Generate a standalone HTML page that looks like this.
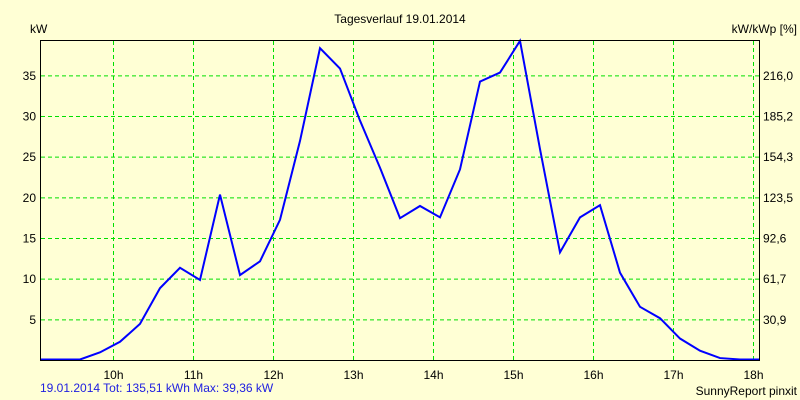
<!DOCTYPE html>
<html><head><meta charset="utf-8"><style>
body{margin:0;background:#ffffd5;}
svg{display:block;font-family:"Liberation Sans",Arial,sans-serif;font-size:12px;}
</style></head><body>
<svg id="chart" width="800" height="400">
<rect x="0" y="0" width="800" height="400" fill="#ffffd5"/>
<text x="400" y="23" text-anchor="middle">Tagesverlauf 19.01.2014</text>
<text x="30" y="33">kW</text>
<text x="797" y="33" text-anchor="end">kW/kWp [%]</text>
<g id="grid"></g>
<g id="ticks"></g>
<polyline id="line" fill="none" stroke="#0000ff" stroke-width="2"/>
<path d="M40.5,40.5 V360.5 H759.5 V40.5 Z" fill="none" stroke="#000" stroke-width="1"/>
<text x="40" y="392" fill="#2020e0">19.01.2014 Tot: 135,51 kWh Max: 39,36 kW</text>
<text x="797" y="395" text-anchor="end">SunnyReport pinxit</text>
</svg>
<script>
const yTicks=[5,10,15,20,25,30,35];
const rightTicks=["30,9","61,7","92,6","123,5","154,3","185,2","216,0"];
const hourLabels=["10h","11h","12h","13h","14h","15h","16h","17h","18h"];
const hours=[10,11,12,13,14,15,16,17,18];
const startTime=9+5/60;
const power=[0,0,0,1.0,2.3,4.5,8.9,11.4,9.9,20.4,10.5,12.2,17.3,27,38.4,35.9,29.5,23.7,17.5,19,17.6,23.5,34.3,35.4,39.3,26,13.3,17.6,19.1,10.8,6.6,5.2,2.7,1.2,0.3,0,0];
const svgNS="http://www.w3.org/2000/svg";
function xs(h){return 40+(h-startTime)*80;}
function ys(v){return 360.5-v*8.133;}
const grid=document.getElementById('grid'),ticks=document.getElementById('ticks');
yTicks.forEach((v,i)=>{
  const l=document.createElementNS(svgNS,'line');
  
  
  l.setAttribute('x1',41);l.setAttribute('x2',759);l.setAttribute('y1',ys(v));l.setAttribute('y2',ys(v));
  l.setAttribute('stroke','#00e000');l.setAttribute('stroke-dasharray','4,3');
  grid.appendChild(l);
  const t=document.createElementNS(svgNS,'text');
  
  
  t.setAttribute('x',36);t.setAttribute('y',ys(v)+4);t.setAttribute('text-anchor','end');
  t.textContent=v;ticks.appendChild(t);
  const r=document.createElementNS(svgNS,'text');
  
  
  r.setAttribute('x',763);r.setAttribute('y',ys(v)+4);
  r.textContent=rightTicks[i];ticks.appendChild(r);
});
hours.forEach((h,i)=>{
  const x=Math.round(xs(h))+0.5;
  const l=document.createElementNS(svgNS,'line');
  
  
  l.setAttribute('x1',x);l.setAttribute('x2',x);l.setAttribute('y1',41);l.setAttribute('y2',360);
  l.setAttribute('stroke','#00e000');l.setAttribute('stroke-dasharray','4,3');
  grid.appendChild(l);
  const t=document.createElementNS(svgNS,'text');
  
  
  t.setAttribute('x',x);t.setAttribute('y',379);t.setAttribute('text-anchor','middle');
  t.textContent=hourLabels[i];ticks.appendChild(t);
});
document.getElementById('line').setAttribute('points',power.map((v,i)=>xs(startTime+i*0.25)+','+Math.min(ys(v),359.5)).join(' '));
</script>
</body></html>
